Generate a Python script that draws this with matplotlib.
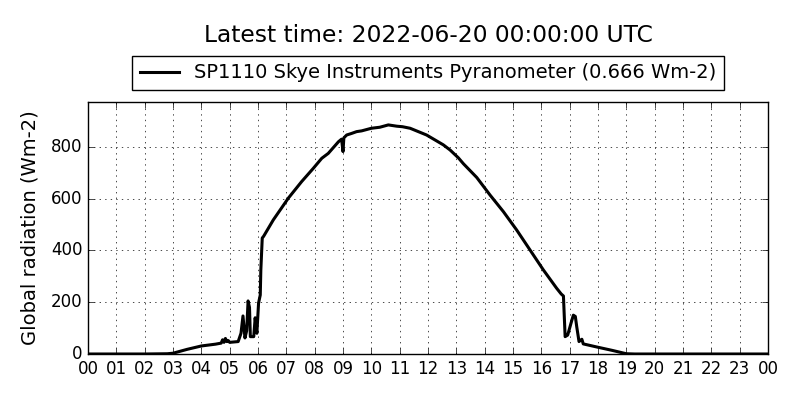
import matplotlib
matplotlib.use("Agg")
import matplotlib.pyplot as plt

# hours since 00 UTC and global radiation (Wm-2)
hours = [0, 1, 2, 2.8, 3.0, 3.5, 4.0, 4.5, 4.7, 4.75, 4.8, 4.85, 4.9, 4.95,
         5.0, 5.3, 5.4, 5.47, 5.54, 5.6, 5.65, 5.7, 5.73, 5.85, 5.9, 5.96,
         6.02, 6.08, 6.1, 6.15, 6.2, 6.54, 7.07, 7.54, 7.95, 8.25, 8.48,
         8.84, 8.95, 9.0, 9.03, 9.13, 9.3, 9.48, 9.66, 10.0, 10.3, 10.6,
         10.9, 11.1, 11.37, 11.95, 12.54, 12.78, 13.07, 13.25, 13.72, 14.19,
         14.66, 15.13, 15.6, 16.07, 16.54, 16.7, 16.78, 16.84, 16.93, 17.05,
         17.13, 17.2, 17.25, 17.33, 17.43, 17.48, 17.96, 18.5, 19.0, 19.3, 24]
radiation = [0, 0, 0, 1, 3, 18, 31, 38, 42, 55, 45, 60, 48, 52,
             45, 48, 80, 147, 62, 90, 205, 180, 67, 67, 140, 80,
             197, 228, 325, 448, 455, 518, 602, 666, 717, 756, 775,
             820, 830, 782, 835, 846, 852, 859, 862, 872, 876, 885,
             880, 878, 872, 846, 808, 788, 758, 735, 682, 614,
             550, 479, 402, 325, 254, 232, 224, 67, 73, 120,
             150, 145, 105, 48, 57, 39, 27, 14, 1, 0, 0]

title = "Latest time: 2022-06-20 00:00:00 UTC"
label = "SP1110 Skye Instruments Pyranometer (0.666 Wm-2)"
hour_ticks = list(range(0, 25))
hour_labels = ["%02d" % (h % 24) for h in hour_ticks]

plt.style.use("classic")
fig = plt.figure(figsize=(8, 4), dpi=100, facecolor="white")
ax = fig.add_axes([0.11, 0.115, 0.85, 0.63])
ax.plot(hours, radiation, color="black", linewidth=2.2, label=label)
ax.set_xlim(0, 24)
ax.set_ylim(0, max(radiation) * 1.1)
ax.set_xticks(hour_ticks)
ax.set_xticklabels(hour_labels)
ax.set_yticks([0, 200, 400, 600, 800])
ax.tick_params(labelsize=12)
ax.set_ylabel("Global radiation (Wm-2)", fontsize=14, labelpad=8)
ax.grid(True)
ax.legend(loc="lower center", bbox_to_anchor=(0.5, 1.008), fontsize=14,
          numpoints=1)
fig.text(0.535, 0.91, title, ha="center", va="center", fontsize=16.8)
fig.savefig("out.png", facecolor="white")
